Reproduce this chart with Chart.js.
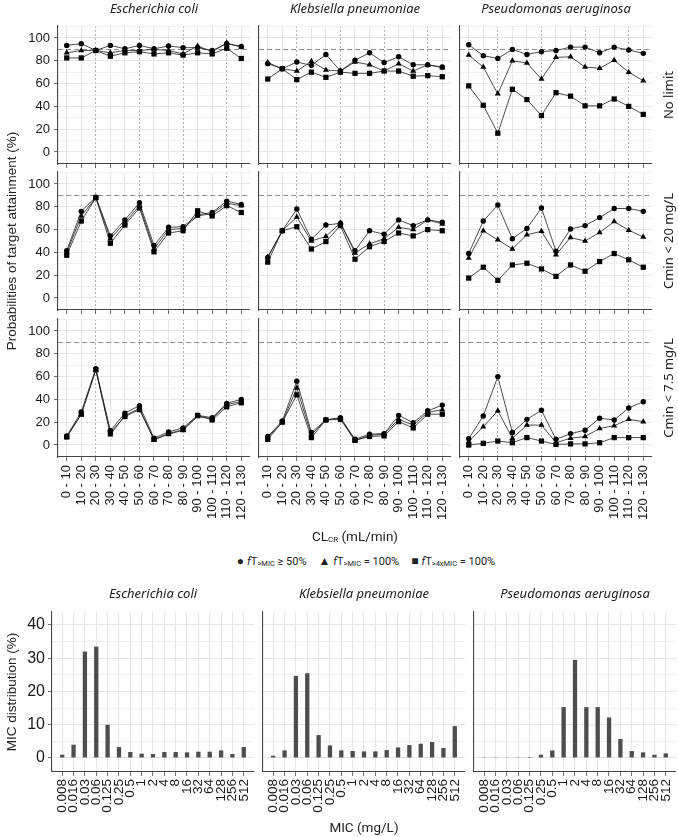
<!DOCTYPE html>
<html>
<head>
<meta charset="utf-8">
<script src="https://cdn.jsdelivr.net/npm/chart.js@4.4.1/dist/chart.umd.min.js"></script>
<style>
  html, body { margin: 0; padding: 0; background: #fff; }
  #page { position: relative; width: 678px; height: 837px; overflow: hidden; font-family: 'Liberation Sans', Arial, sans-serif; color: #222; }
  canvas { position: absolute; }
  .lbl { position: absolute; white-space: nowrap; transform: translate(-50%, -50%); line-height: 1; }
  .facet { font-family: 'Noto Sans', sans-serif; font-style: italic; font-size: 13px; }
  .strip { font-family: 'Noto Sans', sans-serif; font-size: 13px; transform: translate(-50%, -50%) rotate(-90deg); }
  .ytitle { font-size: 13.5px; transform: translate(-50%, -50%) rotate(-90deg); }
  .xtitle { font-family: 'Roboto', sans-serif; font-size: 13.5px; }
  .legend { font-family: 'Roboto', sans-serif; font-size: 11px; }
  .legend sub { font-size: 7.5px; vertical-align: -1px; }
  .legend .sym { font-size: 12px; margin-right: 3px; }
  .legend .item { margin: 0 6px; }
</style>
</head>
<body>
<div id="page"></div>
<script>
// ---- categories / ticks ----
const CLCR_BINS = ['0 - 10', '10 - 20', '20 - 30', '30 - 40', '40 - 50', '50 - 60', '60 - 70',
                   '70 - 80', '80 - 90', '90 - 100', '100 - 110', '110 - 120', '120 - 130'];
const DASHED_BINS = ['20 - 30', '50 - 60', '80 - 90', '110 - 120'];
const ORGANISMS = ['Escherichia coli', 'Klebsiella pneumoniae', 'Pseudomonas aeruginosa'];
const LIMITS = ['No limit', 'Cmin < 20 mg/L', 'Cmin < 7.5 mg/L'];
const PTA_Y_TICKS = [0, 20, 40, 60, 80, 100];
const PTA_Y_MINOR = [-10, 10, 30, 50, 70, 90, 110];
const TARGET_PTA = 90;
const MIC_LABELS = ['0.008', '0.016', '0.03', '0.06', '0.125', '0.25', '0.5', '1', '2', '4',
                    '8', '16', '32', '64', '128', '256', '512'];
const MIC_Y_TICKS = [0, 10, 20, 30, 40];
const MIC_Y_MINOR = [5, 15, 25, 35];

// ---- PTA (%) : fT>MIC >= 50%, fT>MIC = 100%, fT>4xMIC = 100% ----
const ECO_NOLIMIT_F50 = [93.5, 95, 89, 93.5, 90.5, 93.5, 90.5, 93, 91.5, 91.5, 89, 95, 92.5];
const ECO_NOLIMIT_F100 = [87, 89, 89, 87, 89, 89, 90, 89, 86, 93, 88, 95.5, 92];
const ECO_NOLIMIT_F4X = [82.5, 82.5, 89, 84, 87, 88, 86, 87, 85, 87, 86, 91, 82];
const KPN_NOLIMIT_F50 = [77.5, 73, 79, 76, 85.5, 71, 80.5, 87, 78.5, 83.5, 76.5, 76.5, 74.5];
const KPN_NOLIMIT_F100 = [78.5, 73, 71, 79.5, 72, 71, 79, 76.5, 71, 77.5, 71, 76.5, 74];
const KPN_NOLIMIT_F4X = [64, 73, 63.5, 70, 65.5, 70, 69, 69, 71, 71, 66.5, 67, 66];
const PAE_NOLIMIT_F50 = [94, 84.5, 82, 90, 85.5, 88, 89, 92, 92, 87, 92, 89.5, 86.5];
const PAE_NOLIMIT_F100 = [85, 74.5, 51, 80, 78, 64, 83, 83.5, 74.5, 73.5, 80.5, 70, 62.5];
const PAE_NOLIMIT_F4X = [58, 41, 16.5, 55, 46, 32, 52, 49, 40.5, 40.5, 46.5, 40, 33];

const ECO_C20_F50 = [41.5, 76, 88.5, 54.5, 68.5, 83.5, 46, 62, 62.5, 73, 75, 85, 82];
const ECO_C20_F100 = [40, 72, 88, 52, 66, 81, 43, 60, 61, 72, 74, 83, 81];
const ECO_C20_F4X = [37.5, 67.5, 88, 48, 64, 79, 40.5, 57, 59, 76.5, 72, 81, 75];
const KPN_C20_F50 = [35.5, 59, 78, 51.5, 64, 65.5, 41.5, 59, 56, 68.5, 63.5, 68.5, 66.5];
const KPN_C20_F100 = [36, 59, 71, 50, 54, 66, 39.5, 47.5, 52, 62, 60, 68.5, 65];
const KPN_C20_F4X = [31.5, 59, 62.5, 43, 49.5, 63.5, 34, 45, 49.5, 57, 54.5, 60, 59];
const PAE_C20_F50 = [39, 67.5, 81.5, 52, 61, 79, 41, 60.5, 63.5, 70.5, 78.5, 78.5, 76];
const PAE_C20_F100 = [35, 59, 51, 43, 55.5, 58.5, 38, 53, 50, 57.5, 67, 59.5, 53.5];
const PAE_C20_F4X = [17.5, 27, 15.5, 29, 30.5, 25.5, 19, 29, 23.5, 32, 39, 33.5, 27];

const ECO_C75_F50 = [8, 29, 67, 12.5, 28, 34.5, 6, 11.5, 15, 26, 24, 36.5, 40];
const ECO_C75_F100 = [7, 27, 66, 9, 26, 32, 4.5, 9.5, 13, 25, 23, 35.5, 38];
const ECO_C75_F4X = [7, 27, 66, 11, 25, 31, 5, 10, 13.5, 26, 22, 33.5, 37];
const KPN_C75_F50 = [7.5, 21, 56, 11, 22, 24, 5, 9.5, 10, 26, 19.5, 30, 35];
const KPN_C75_F100 = [6.5, 20, 50, 9, 22, 23.5, 4, 8.5, 9.5, 22.5, 17.5, 28.5, 31];
const KPN_C75_F4X = [5, 20, 44, 6.5, 22, 22.5, 4, 7.5, 8, 20.5, 15, 27, 27];
const PAE_C75_F50 = [5.5, 25.5, 60, 11, 22.5, 30.5, 5, 10, 13, 23.5, 22, 32.5, 38];
const PAE_C75_F100 = [3, 16, 30, 6, 17.5, 17.5, 2, 6, 7.5, 14.5, 17, 22.5, 20.5];
const PAE_C75_F4X = [0, 1.5, 3.5, 2, 6.5, 3.5, 0.5, 1, 1, 2, 6.5, 6.5, 6.5];

// ---- MIC distribution (%) ----
const ECO_MIC = [1.0, 4.0, 32, 33.5, 10, 3.3, 1.8, 1.3, 1.2, 1.8, 1.8, 1.7, 1.9, 1.9, 2.3, 1.2, 3.3];
const KPN_MIC = [0.7, 2.3, 24.7, 25.5, 6.9, 3.8, 2.3, 2.1, 2.0, 2.0, 2.4, 3.2, 3.9, 4.3, 4.8, 3.0, 9.6];
const PAE_MIC = [0.1, 0.1, 0.1, 0.1, 0.3, 1.0, 2.3, 15.3, 29.5, 15.3, 15.3, 12.2, 5.7, 2.1, 1.7, 1.0, 1.4];

const PTA_PANELS = [
    [[ECO_NOLIMIT_F50, ECO_NOLIMIT_F100, ECO_NOLIMIT_F4X], [KPN_NOLIMIT_F50, KPN_NOLIMIT_F100, KPN_NOLIMIT_F4X], [PAE_NOLIMIT_F50, PAE_NOLIMIT_F100, PAE_NOLIMIT_F4X]],
    [[ECO_C20_F50, ECO_C20_F100, ECO_C20_F4X], [KPN_C20_F50, KPN_C20_F100, KPN_C20_F4X], [PAE_C20_F50, PAE_C20_F100, PAE_C20_F4X]],
    [[ECO_C75_F50, ECO_C75_F100, ECO_C75_F4X], [KPN_C75_F50, KPN_C75_F100, KPN_C75_F4X], [PAE_C75_F50, PAE_C75_F100, PAE_C75_F4X]]
];
const MIC_PANELS = [ECO_MIC, KPN_MIC, PAE_MIC];

// ---- layout ----
const PTA_LEFT = [58, 259, 460];
const PTA_TOP = [26, 172, 319];
const PTA_W = 192;
const PTA_H = 138;
const MIC_LEFT = [52, 263, 474];
const MIC_TOP = 612;
const MIC_W = 202;
const MIC_H = 160;
const PAD = 16;
const MARKERS = ['circle', 'triangle', 'rect'];
const MARKER_RADIUS = [2.7, 3.5, 3.7];

Chart.defaults.font.family = "'Liberation Sans', Arial, sans-serif";
Chart.defaults.color = '#1a1a1a';

const Page = document.getElementById('page');

function Make_Canvas(Left, Top, Width, Height) {
    const Cv = document.createElement('canvas');
    Cv.width = Width;
    Cv.height = Height;
    Cv.style.left = Left + 'px';
    Cv.style.top = Top + 'px';
    Cv.style.width = Width + 'px';
    Cv.style.height = Height + 'px';
    Page.appendChild(Cv);
    return Cv;
}

function Add_Text(Html, X, Y, Cls) {
    const El = document.createElement('div');
    El.className = 'lbl ' + Cls;
    El.innerHTML = Html;
    El.style.left = X + 'px';
    El.style.top = Y + 'px';
    Page.appendChild(El);
}

const Is_Dashed_Bin = C => !!(C.tick && DASHED_BINS.includes(CLCR_BINS[C.tick.value]));

function Build_Pta_Panel(Row, Col, Series) {
    const Y_W = Col === 0 ? 46 : 6;
    const X_H = Row === 2 ? 66 : 4;
    const Pad_B = Row === 2 ? 0 : 14;
    const Cv = Make_Canvas(PTA_LEFT[Col] - Y_W, PTA_TOP[Row] - PAD, Y_W + PTA_W + PAD, PAD + PTA_H + X_H + Pad_B);
    new Chart(Cv, {
        type: 'line',
        data: {
            datasets: Series.map((Values, K) => ({
                data: Values.map((V, I) => ({ x: I, y: V })),
                borderColor: '#1f1f1f',
                borderWidth: 0.8,
                tension: 0,
                pointStyle: MARKERS[K],
                pointRadius: MARKER_RADIUS[K],
                pointBackgroundColor: '#000',
                pointBorderColor: '#000',
                pointBorderWidth: 0
            }))
        },
        options: {
            responsive: false, animation: false, devicePixelRatio: 1, events: [],
            layout: { padding: { top: PAD, right: PAD, bottom: Pad_B, left: 0 } },
            plugins: { legend: { display: false }, tooltip: { enabled: false } },
            scales: {
                x: {
                    type: 'linear', min: -0.6, max: CLCR_BINS.length - 0.4, offset: false,
                    afterBuildTicks: S => { S.ticks = CLCR_BINS.map((_, I) => ({ value: I })); },
                    afterFit: S => { S.height = X_H; },
                    ticks: {
                        display: Row === 2, autoSkip: false, minRotation: 90, maxRotation: 90,
                        padding: 4, font: { size: 13 }, callback: V => CLCR_BINS[V]
                    },
                    grid: {
                        offset: false,
                        color: C => Is_Dashed_Bin(C) ? '#9c9c9c' : '#e6e6e6',
                        lineWidth: C => Is_Dashed_Bin(C) ? 0.8 : 1.1,
                        tickLength: 4, tickColor: '#444', tickWidth: 0.8
                    },
                    border: { color: '#454545', width: 1.1, dash: C => Is_Dashed_Bin(C) ? [2, 2] : [] }
                },
                y: {
                    min: -10.5, max: 110.5,
                    afterBuildTicks: S => {
                        S.ticks = [...PTA_Y_MINOR, ...PTA_Y_TICKS].sort((A, B) => A - B).map(V => ({ value: V }));
                    },
                    afterFit: S => { S.width = Y_W; },
                    ticks: {
                        display: Col === 0, autoSkip: false, padding: 4, font: { size: 13 },
                        callback: V => PTA_Y_TICKS.includes(V) ? String(V) : ''
                    },
                    grid: {
                        color: C => !C.tick ? '#e6e6e6' : C.tick.value === TARGET_PTA ? '#8f8f8f'
                            : PTA_Y_TICKS.includes(C.tick.value) ? '#e6e6e6' : '#f0f0f0',
                        lineWidth: C => C.tick && PTA_Y_TICKS.includes(C.tick.value) ? 1.1 : 1,
                        tickLength: 4, tickWidth: 0.8,
                        tickColor: C => (Col === 0 && C.tick && PTA_Y_TICKS.includes(C.tick.value)) ? '#444' : 'rgba(0,0,0,0)'
                    },
                    border: { color: '#454545', width: 1.1, dash: C => (C.tick && C.tick.value === TARGET_PTA) ? [5, 3] : [] }
                }
            }
        }
    });
}

function Build_Mic_Panel(Col, Values) {
    const Y_W = Col === 0 ? 50 : 6;
    const X_H = 62;
    const Cv = Make_Canvas(MIC_LEFT[Col] - Y_W, MIC_TOP - PAD, Y_W + MIC_W + PAD, PAD + MIC_H + X_H);
    new Chart(Cv, {
        type: 'bar',
        data: {
            datasets: [{
                data: Values.map((V, I) => ({ x: I, y: V })),
                backgroundColor: '#4d4d4d',
                borderWidth: 0,
                barPercentage: 0.38,
                categoryPercentage: 1
            }]
        },
        options: {
            responsive: false, animation: false, devicePixelRatio: 1, events: [],
            layout: { padding: { top: PAD, right: PAD, bottom: 0, left: 0 } },
            plugins: { legend: { display: false }, tooltip: { enabled: false } },
            scales: {
                x: {
                    type: 'linear', min: -0.9, max: MIC_LABELS.length - 0.1, offset: false,
                    afterBuildTicks: S => { S.ticks = MIC_LABELS.map((_, I) => ({ value: I })); },
                    afterFit: S => { S.height = X_H; },
                    ticks: {
                        autoSkip: false, minRotation: 90, maxRotation: 90, padding: 3,
                        font: { size: 13.5 }, callback: V => MIC_LABELS[V]
                    },
                    grid: { offset: false, color: '#e8e8e8', lineWidth: 1.1, tickLength: 4, tickColor: '#444', tickWidth: 0.8 },
                    border: { color: '#454545', width: 1.1 }
                },
                y: {
                    min: -4.2, max: 43.9,
                    afterBuildTicks: S => {
                        S.ticks = [...MIC_Y_MINOR, ...MIC_Y_TICKS].sort((A, B) => A - B).map(V => ({ value: V }));
                    },
                    afterFit: S => { S.width = Y_W; },
                    ticks: {
                        display: Col === 0, autoSkip: false, padding: 3, font: { size: 16 },
                        callback: V => MIC_Y_TICKS.includes(V) ? String(V) : ''
                    },
                    grid: {
                        color: C => C.tick && MIC_Y_TICKS.includes(C.tick.value) ? '#e6e6e6' : '#f0f0f0',
                        lineWidth: C => C.tick && MIC_Y_TICKS.includes(C.tick.value) ? 1.1 : 1,
                        tickLength: 4, tickWidth: 0.8,
                        tickColor: C => (Col === 0 && C.tick && MIC_Y_TICKS.includes(C.tick.value)) ? '#444' : 'rgba(0,0,0,0)'
                    },
                    border: { color: '#454545', width: 1.1 }
                }
            }
        }
    });
}

PTA_PANELS.forEach((Row_Panels, Row) => {
    Row_Panels.forEach((Series, Col) => Build_Pta_Panel(Row, Col, Series));
});
MIC_PANELS.forEach((Values, Col) => Build_Mic_Panel(Col, Values));

// ---- text ----
ORGANISMS.forEach((Name, Col) => {
    Add_Text(Name, PTA_LEFT[Col] + PTA_W / 2, 8, 'facet');
    Add_Text(Name, MIC_LEFT[Col] + MIC_W / 2, 593, 'facet');
});
LIMITS.forEach((Name, Row) => {
    Add_Text(Name.replace('<', '&lt;'), 668, PTA_TOP[Row] + PTA_H / 2, 'strip');
});
Add_Text('Probabilities of target attainment (%)', 12, 241, 'ytitle');
Add_Text('CL<sub style="font-size:8px;vertical-align:-1px">CR</sub> (mL/min)', 355, 537, 'xtitle');
Add_Text(
    '<span class="item"><span class="sym">&#9679;</span><i>f</i>T<sub>&gt;MIC</sub> &ge; 50%</span>' +
    '<span class="item"><span class="sym">&#9650;</span><i>f</i>T<sub>&gt;MIC</sub> = 100%</span>' +
    '<span class="item"><span class="sym">&#9632;</span><i>f</i>T<sub>&gt;4xMIC</sub> = 100%</span>',
    366, 561, 'legend');
Add_Text('MIC distribution (%)', 12, 692, 'ytitle');
Add_Text('MIC (mg/L)', 364, 828, 'xtitle');
</script>
</body>
</html>
